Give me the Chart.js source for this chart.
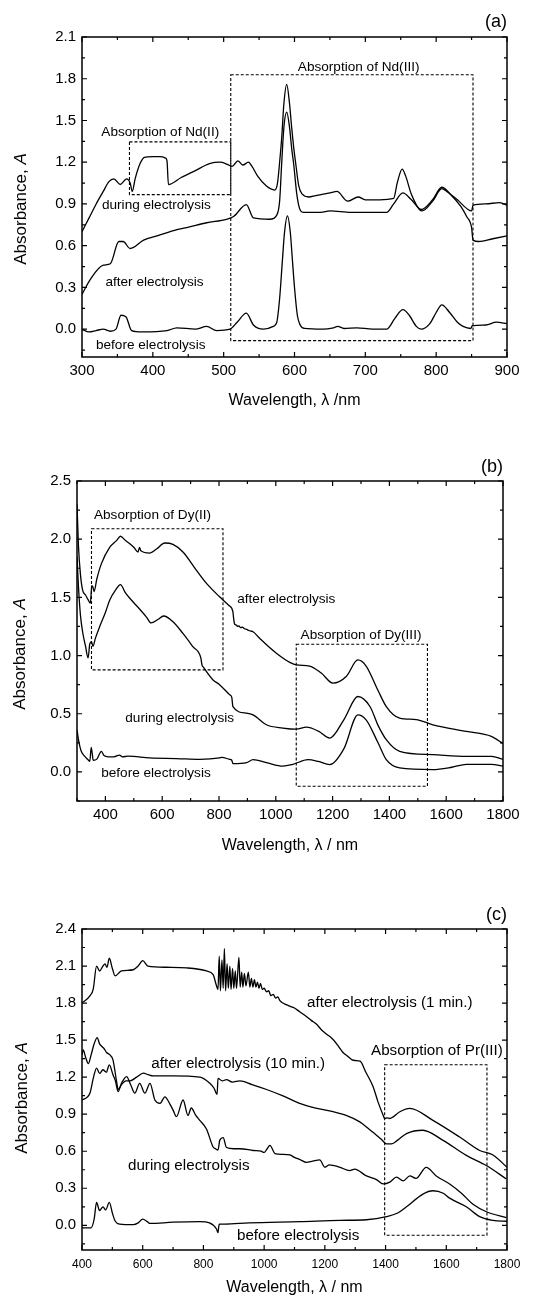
<!DOCTYPE html>
<html>
<head>
<meta charset="utf-8">
<script src="https://cdn.jsdelivr.net/npm/chart.js@4.4.1/dist/chart.umd.min.js"></script>
<style>
html,body{margin:0;padding:0;background:#fff;}
body{width:537px;height:1297px;position:relative;overflow:hidden;}
canvas{position:absolute;left:0;display:block;}
</style>
</head>
<body>
<canvas id="pa" width="537" height="420" style="top:0px"></canvas>
<canvas id="pb" width="537" height="440" style="top:420px"></canvas>
<canvas id="pc" width="537" height="437" style="top:860px"></canvas>
<script>
// ---------------- Panel (a): Nd ----------------
const aXTicks = [300,400,500,600,700,800,900];
const aXTickLabels = ['300','400','500','600','700','800','900'];
const aXMinor = [350,450,550,650,750,850];
const aYTicks = [0,0.3,0.6,0.9,1.2,1.5,1.8,2.1];
const aYTickLabels = ['0.0','0.3','0.6','0.9','1.2','1.5','1.8','2.1'];
const aYMinor = [-0.15,0.15,0.45,0.75,1.05,1.35,1.65,1.95];

const aDuringX = [300,310,320,330,338,345,354,363,368,371,375,382,388,400,410,418,420,422,440,460,480,495,505,512,520,527,535,540,548,560,572,576,579,582,585,589,593,596,599,602,606,611,620,630,650,660,675,690,700,720,740,745,752,757,765,780,795,808,815,830,845,850,852,870,890,900];
const aDuringY = [0.70,0.80,0.90,0.99,1.06,1.08,1.04,1.08,1.05,0.99,1.08,1.19,1.235,1.24,1.24,1.23,1.21,1.04,1.09,1.14,1.19,1.20,1.185,1.17,1.21,1.18,1.20,1.17,1.10,1.03,1.00,1.05,1.20,1.38,1.62,1.76,1.62,1.45,1.30,1.18,1.03,0.97,0.95,0.96,0.98,0.99,0.92,0.95,0.93,0.93,0.94,1.05,1.15,1.10,0.97,0.85,0.92,1.01,0.99,0.93,0.86,0.85,0.89,0.90,0.91,0.89];

const aAfterX = [300,312,330,340,352,358,368,387,406,434,448,476,504,514,532,542,565,575,579,582,585,589,593,596,599,603,607,612,637,650,680,730,740,753,765,779,795,808,820,835,843,850,852,860,880,900];
const aAfterY = [0.25,0.36,0.46,0.47,0.63,0.63,0.58,0.64,0.67,0.715,0.73,0.765,0.79,0.81,0.895,0.80,0.79,0.82,0.92,1.20,1.45,1.56,1.45,1.30,1.18,0.98,0.87,0.84,0.84,0.85,0.84,0.84,0.90,0.98,0.93,0.86,0.93,1.02,0.97,0.88,0.81,0.73,0.64,0.63,0.65,0.67];

const aBeforeX = [300,310,320,330,340,348,355,362,370,385,420,434,460,476,490,509,519,532,542,556,570,575,579,583,586,590,594,597,600,604,608,614,640,655,661,670,688,710,730,742,753,762,772,779,791,800,808,819,830,838,849,851,870,885,900];
const aBeforeY = [0.00,-0.02,-0.01,0.0,-0.015,0.0,0.10,0.09,-0.01,-0.02,-0.01,0.01,0.0,0.02,-0.01,0.0,0.05,0.115,0.03,0.0,0.02,0.05,0.22,0.50,0.70,0.815,0.70,0.50,0.30,0.10,0.03,0.005,0.0,0.01,0.02,0.005,0.01,0.0,0.0,0.08,0.14,0.10,0.02,0.0,0.04,0.12,0.175,0.12,0.05,0.02,0.005,0.025,0.03,0.05,0.04];

// ---------------- Panel (b): Dy ----------------
const bXTicks = [400,600,800,1000,1200,1400,1600,1800];
const bXTickLabels = ['400','600','800','1000','1200','1400','1600','1800'];
const bXMinor = [300,500,700,900,1100,1300,1500,1700];
const bYTicks = [0,0.5,1.0,1.5,2.0,2.5];
const bYTickLabels = ['0.0','0.5','1.0','1.5','2.0','2.5'];
const bYMinor = [-0.25,0.25,0.75,1.25,1.75,2.25];

const bAfterX = [300,305,312,320,330,339,347,352,356,360,370,386,415,440,453,470,486,500,515,520,525,556,580,609,638,673,720,756,802,835,849,851,855,861,866,870,876,882,890,898,905,912,920,943,1002,1072,1119,1160,1201,1248,1289,1318,1360,1389,1436,1494,1553,1671,1759,1800];
const bAfterY = [2.30,1.95,1.70,1.56,1.52,1.48,1.45,1.60,1.59,1.55,1.66,1.79,1.93,1.99,2.025,1.99,1.96,1.93,1.89,1.93,1.90,1.88,1.915,1.967,1.955,1.89,1.735,1.62,1.505,1.43,1.376,1.33,1.27,1.262,1.25,1.255,1.24,1.245,1.23,1.225,1.215,1.21,1.205,1.148,1.02,0.92,0.91,0.85,0.763,0.82,0.962,0.91,0.70,0.562,0.463,0.45,0.405,0.348,0.305,0.243];

const bDuringX = [300,305,312,320,330,339,345,351,356,365,380,400,415,435,453,470,497,520,544,561,585,605,638,673,708,736,740,745,779,802,838,845,849,896,920,967,1025,1072,1108,1150,1190,1240,1289,1332,1360,1389,1436,1553,1671,1760,1800];
const bDuringY = [1.85,1.60,1.35,1.20,1.08,0.98,1.10,1.12,1.08,1.15,1.25,1.37,1.476,1.56,1.61,1.54,1.462,1.40,1.333,1.28,1.31,1.34,1.29,1.19,1.076,0.98,0.92,0.90,0.79,0.75,0.662,0.64,0.562,0.505,0.49,0.405,0.377,0.367,0.385,0.35,0.291,0.45,0.648,0.56,0.40,0.277,0.177,0.148,0.134,0.134,0.107];

const bBeforeX = [300,305,310,315,325,339,345,350,353,357,370,386,395,410,430,450,460,480,556,650,732,802,810,837,845,849,897,920,967,1025,1060,1113,1150,1190,1240,1289,1318,1360,1389,1436,1553,1620,1671,1759,1800];
const bBeforeY = [0.36,0.28,0.22,0.177,0.14,0.105,0.09,0.21,0.17,0.10,0.11,0.177,0.14,0.13,0.13,0.145,0.13,0.135,0.12,0.115,0.108,0.12,0.125,0.108,0.10,0.071,0.08,0.105,0.08,0.05,0.065,0.105,0.09,0.063,0.2,0.49,0.447,0.25,0.105,0.034,0.02,0.04,0.065,0.065,0.05];

// ---------------- Panel (c): Pr ----------------
const cXTicks = [400,600,800,1000,1200,1400,1600,1800];
const cXTickLabels = ['400','600','800','1000','1200','1400','1600','1800'];
const cXMinor = [500,700,900,1100,1300,1500,1700];
const cYTicks = [0,0.3,0.6,0.9,1.2,1.5,1.8,2.1,2.4];
const cYTickLabels = ['0.0','0.3','0.6','0.9','1.2','1.5','1.8','2.1','2.4'];
const cYMinor = [-0.15,0.15,0.45,0.75,1.05,1.35,1.65,1.95,2.25];

const cAfter1X = [400,426,437,448,458,469,476,482,490,500,509,530,569,585,600,617,679,745,810,832,843,848,852,856,861,865,869,873,878,882,887,891,896,900,905,909,917,921,926,930,935,940,948,953,958,963,968,973,978,983,988,994,1000,1008,1015,1022,1030,1038,1045,1052,1062,1070,1080,1090,1100,1117,1140,1155,1172,1190,1205,1227,1245,1260,1275,1290,1300,1316,1335,1359,1375,1392,1397,1405,1414,1447,1480,1556,1644,1710,1754,1800];
const cAfter1Y = [1.80,1.858,1.913,2.10,2.06,2.10,2.117,2.09,2.163,2.08,2.02,2.06,2.07,2.10,2.144,2.10,2.09,2.085,2.06,2.03,1.94,1.91,2.18,1.90,2.15,1.92,2.24,1.90,2.12,1.92,2.10,1.91,2.08,1.92,2.06,1.92,2.17,1.93,2.05,1.93,2.04,1.94,2.05,1.93,2.00,1.93,1.99,1.93,1.97,1.92,1.96,1.91,1.92,1.89,1.90,1.86,1.87,1.84,1.85,1.82,1.80,1.79,1.78,1.77,1.76,1.73,1.69,1.66,1.63,1.58,1.55,1.505,1.45,1.40,1.37,1.34,1.335,1.33,1.24,1.123,1.00,0.892,0.865,0.87,0.865,0.92,0.947,0.85,0.715,0.606,0.57,0.47];

const cAfter10X = [400,404,412,421,430,440,450,458,465,473,481,492,502,514,519,530,545,558,580,602,618,635,700,788,821,835,845,848,862,876,895,920,960,1008,1060,1117,1170,1227,1270,1315,1345,1370,1385,1403,1420,1440,1469,1523,1588,1666,1732,1798];
const cAfter10Y = [1.38,1.42,1.36,1.31,1.38,1.47,1.52,1.47,1.45,1.43,1.40,1.38,1.34,1.164,1.10,1.14,1.17,1.17,1.20,1.233,1.22,1.21,1.21,1.20,1.15,1.11,1.06,1.19,1.17,1.18,1.16,1.17,1.14,1.10,1.05,0.988,0.95,0.92,0.89,0.838,0.78,0.73,0.70,0.66,0.66,0.69,0.743,0.77,0.69,0.566,0.484,0.375];

const cDuringX = [400,426,438,448,458,469,480,490,502,510,519,530,547,560,574,590,607,624,640,657,673,690,700,711,733,749,760,775,788,810,832,840,848,854,865,876,900,920,964,990,1000,1010,1019,1036,1060,1085,1100,1120,1139,1160,1183,1200,1215,1227,1250,1282,1298,1337,1370,1392,1414,1436,1458,1480,1500,1534,1567,1611,1650,1688,1732,1798];
const cDuringY = [1.015,1.07,1.20,1.273,1.23,1.26,1.24,1.30,1.22,1.17,1.083,1.15,1.205,1.14,1.07,1.15,1.07,1.15,1.015,0.988,1.04,0.98,0.933,0.88,1.015,0.89,0.95,0.89,0.85,0.78,0.634,0.62,0.61,0.69,0.71,0.63,0.62,0.62,0.606,0.60,0.59,0.62,0.647,0.58,0.575,0.57,0.55,0.53,0.51,0.52,0.53,0.47,0.49,0.485,0.47,0.443,0.455,0.40,0.37,0.335,0.35,0.39,0.36,0.40,0.38,0.47,0.40,0.335,0.26,0.17,0.11,0.062];

const cBeforeX = [400,430,440,448,458,469,478,490,500,509,524,569,585,600,615,624,700,788,820,843,848,850,852,870,950,1117,1250,1337,1403,1440,1469,1523,1556,1590,1611,1666,1710,1754,1800];
const cBeforeY = [-0.02,-0.02,0.05,0.185,0.12,0.15,0.125,0.185,0.10,0.035,0.01,0.005,0.02,0.05,0.03,0.015,0.025,0.03,0.02,-0.03,-0.06,-0.02,0.01,0.01,0.02,0.03,0.04,0.045,0.07,0.10,0.15,0.253,0.28,0.26,0.22,0.15,0.07,0.04,0.033];

const FONT = "'Liberation Sans', Arial, Helvetica, sans-serif";

const decor = {
  id: 'decor',
  afterDatasetsDraw(chart, args, o) {
    const ctx = chart.ctx, xs = chart.scales.x, ys = chart.scales.y, a = chart.chartArea;
    ctx.save();
    ctx.strokeStyle = '#000'; ctx.fillStyle = '#000';
    ctx.setLineDash([3, 2]); ctx.lineWidth = 1.1;
    o.boxes.forEach(b => {
      const x0 = xs.getPixelForValue(b.x0), x1 = xs.getPixelForValue(b.x1);
      const y0 = ys.getPixelForValue(b.y0), y1 = ys.getPixelForValue(b.y1);
      ctx.strokeRect(x0, y1, x1 - x0, y0 - y1);
    });
    ctx.setLineDash([]);
    ctx.textAlign = 'center'; ctx.textBaseline = 'middle';
    o.texts.forEach(t => {
      ctx.font = t.size + 'px ' + FONT;
      ctx.fillText(t.t, xs.getPixelForValue(t.x), ys.getPixelForValue(t.y));
    });
    ctx.lineWidth = 1.5;
    ctx.strokeRect(a.left, a.top, a.right - a.left, a.bottom - a.top);
    ctx.lineWidth = 1.2;
    ctx.beginPath();
    const xt = (vals, len) => vals.forEach(v => {
      const p = xs.getPixelForValue(v);
      ctx.moveTo(p, a.bottom); ctx.lineTo(p, a.bottom - len);
      ctx.moveTo(p, a.top); ctx.lineTo(p, a.top + len);
    });
    const yt = (vals, len) => vals.forEach(v => {
      const p = ys.getPixelForValue(v);
      ctx.moveTo(a.left, p); ctx.lineTo(a.left + len, p);
      ctx.moveTo(a.right, p); ctx.lineTo(a.right - len, p);
    });
    xt(o.xMajor, 5); xt(o.xMinor, 3); yt(o.yMajor, 5); yt(o.yMinor, 3);
    ctx.stroke();
    ctx.font = '16px ' + FONT;
    ctx.textAlign = 'center'; ctx.textBaseline = 'middle';
    ctx.fillText(o.xTitle, (a.left + a.right) / 2, o.xTitleY);
    ctx.save();
    ctx.translate(o.yTitleX, o.yTitleY);
    ctx.rotate(-Math.PI / 2);
    const f1 = '17px ' + FONT, f2 = 'italic 17px ' + FONT;
    ctx.font = f1; const w1 = ctx.measureText('Absorbance, ').width;
    ctx.font = f2; const w2 = ctx.measureText('A').width;
    ctx.textAlign = 'left';
    ctx.font = f1; ctx.fillText('Absorbance, ', -(w1 + w2) / 2, 0);
    ctx.font = f2; ctx.fillText('A', -(w1 + w2) / 2 + w1, 0);
    ctx.restore();
    ctx.font = '18px ' + FONT;
    ctx.textAlign = 'right'; ctx.textBaseline = 'middle';
    ctx.fillText(o.letter, a.right, o.letterY);
    ctx.restore();
  }
};

function makePanel(id, s) {
  const el = document.getElementById(id);
  const W = el.width, H = el.height;
  const datasets = s.series.map(ser => ({
    data: ser[0].map((v, i) => ({ x: v, y: ser[1][i] })),
    borderColor: '#000', borderWidth: 1.3, pointRadius: 0, fill: false,
    cubicInterpolationMode: 'monotone'
  }));
  return new Chart(el, {
    type: 'line',
    data: { datasets },
    options: {
      responsive: false, animation: false, devicePixelRatio: 1,
      layout: { padding: { left: 0, right: W - s.plot.r, top: s.plot.t, bottom: 0 } },
      plugins: {
        legend: { display: false }, tooltip: { enabled: false }, title: { display: false },
        decor: s.decor
      },
      scales: {
        x: {
          type: 'linear', min: s.xMin, max: s.xMax,
          grid: { display: false, drawTicks: false }, border: { display: false },
          ticks: { color: '#000', font: { family: FONT, size: s.xTickFont }, padding: s.xPad,
                   autoSkip: false, maxRotation: 0, callback: (v, i) => s.xLabels[i] },
          afterBuildTicks: sc => { sc.ticks = s.xTicks.map(v => ({ value: v })); },
          afterFit: sc => { sc.height = H - s.plot.b; }
        },
        y: {
          type: 'linear', min: s.yMin, max: s.yMax,
          grid: { display: false, drawTicks: false }, border: { display: false },
          ticks: { color: '#000', font: { family: FONT, size: 15 }, padding: 6,
                   autoSkip: false, callback: (v, i) => s.yLabels[i] },
          afterBuildTicks: sc => { sc.ticks = s.yTicks.map(v => ({ value: v })); },
          afterFit: sc => { sc.width = s.plot.l; }
        }
      }
    },
    plugins: [decor]
  });
}

makePanel('pa', {
  plot: { l: 82, r: 507, t: 37, b: 357 },
  xMin: 300, xMax: 900, yMin: -0.2, yMax: 2.1,
  xTicks: aXTicks, xLabels: aXTickLabels, yTicks: aYTicks, yLabels: aYTickLabels,
  xTickFont: 15, xPad: 5,
  series: [[aDuringX, aDuringY], [aAfterX, aAfterY], [aBeforeX, aBeforeY]],
  decor: {
    xMajor: aXTicks, xMinor: aXMinor, yMajor: aYTicks, yMinor: aYMinor,
    boxes: [{ x0: 367, x1: 510, y0: 0.967, y1: 1.346 }, { x0: 510, x1: 852, y0: -0.082, y1: 1.829 }],
    texts: [
      { t: 'Absorption of Nd(II)', x: 410.5, y: 1.415, size: 13.6 },
      { t: 'Absorption of Nd(III)', x: 690.6, y: 1.88, size: 13.6 },
      { t: 'during electrolysis', x: 405, y: 0.888, size: 13.6 },
      { t: 'after electrolysis', x: 402.4, y: 0.338, size: 13.6 },
      { t: 'before electrolysis', x: 397, y: -0.113, size: 13.6 }
    ],
    xTitle: 'Wavelength, \u03bb /nm', xTitleY: 401,
    yTitleX: 21, yTitleY: 209, letter: '(a)', letterY: 22
  }
});

makePanel('pb', {
  plot: { l: 77, r: 503, t: 61, b: 381 },
  xMin: 300, xMax: 1800, yMin: -0.25, yMax: 2.5,
  xTicks: bXTicks, xLabels: bXTickLabels, yTicks: bYTicks, yLabels: bYTickLabels,
  xTickFont: 15, xPad: 5,
  series: [[bAfterX, bAfterY], [bDuringX, bDuringY], [bBeforeX, bBeforeY]],
  decor: {
    xMajor: bXTicks, xMinor: bXMinor, yMajor: bYTicks, yMinor: bYMinor,
    boxes: [{ x0: 351, x1: 814, y0: 0.877, y1: 2.09 }, { x0: 1072, x1: 1534, y0: -0.123, y1: 1.097 }],
    texts: [
      { t: 'Absorption of Dy(II)', x: 566, y: 2.205, size: 13.6 },
      { t: 'after electrolysis', x: 1037, y: 1.482, size: 13.6 },
      { t: 'Absorption of Dy(III)', x: 1300, y: 1.177, size: 13.6 },
      { t: 'during electrolysis', x: 661.6, y: 0.463, size: 13.6 },
      { t: 'before electrolysis', x: 578, y: -0.01, size: 13.6 }
    ],
    xTitle: 'Wavelength, \u03bb / nm', xTitleY: 426,
    yTitleX: 20, yTitleY: 234, letter: '(b)', letterY: 47
  }
});

makePanel('pc', {
  plot: { l: 82, r: 507, t: 69, b: 390 },
  xMin: 400, xMax: 1800, yMin: -0.2, yMax: 2.4,
  xTicks: cXTicks, xLabels: cXTickLabels, yTicks: cYTicks, yLabels: cYTickLabels,
  xTickFont: 12, xPad: 7,
  series: [[cAfter1X, cAfter1Y], [cAfter10X, cAfter10Y], [cDuringX, cDuringY], [cBeforeX, cBeforeY]],
  decor: {
    xMajor: cXTicks, xMinor: cXMinor, yMajor: cYTicks, yMinor: cYMinor,
    boxes: [{ x0: 1397, x1: 1734, y0: -0.08, y1: 1.30 }],
    texts: [
      { t: 'after electrolysis (1 min.)', x: 1414, y: 1.80, size: 15.2 },
      { t: 'Absorption of Pr(III)', x: 1569, y: 1.417, size: 15.2 },
      { t: 'after electrolysis (10 min.)', x: 914.6, y: 1.308, size: 15.2 },
      { t: 'during electrolysis', x: 751.5, y: 0.484, size: 15.2 },
      { t: 'before electrolysis', x: 1112, y: -0.087, size: 15.2 }
    ],
    xTitle: 'Wavelength, \u03bb / nm', xTitleY: 428,
    yTitleX: 22, yTitleY: 238, letter: '(c)', letterY: 55
  }
});
</script>
</body>
</html>
